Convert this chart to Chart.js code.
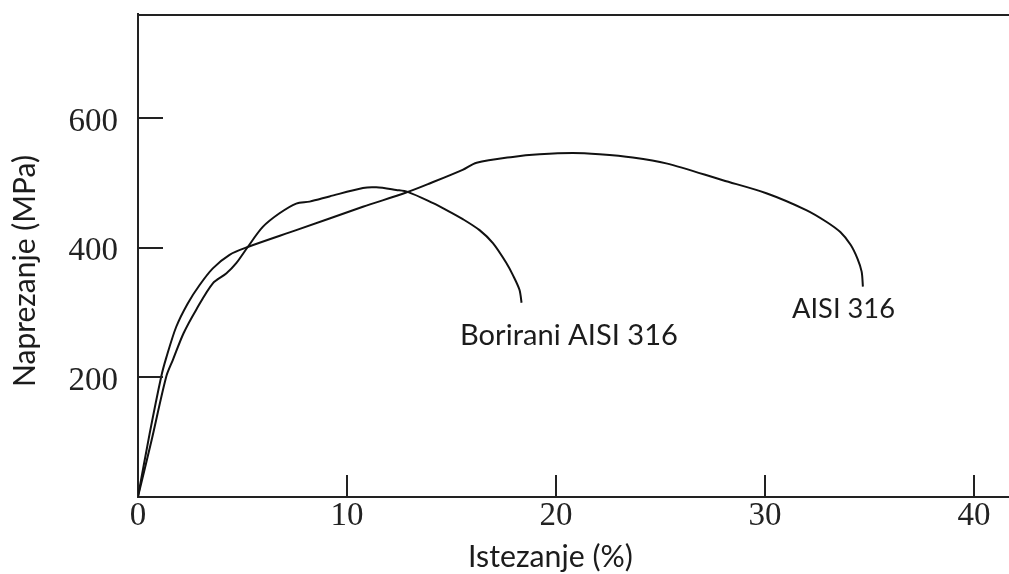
<!DOCTYPE html>
<html>
<head>
<meta charset="utf-8">
<script src="https://cdn.jsdelivr.net/npm/chart.js@4/dist/chart.umd.min.js"></script>
<style>
  html, body { margin: 0; padding: 0; background: #ffffff; }
  #c { display: block; }
</style>
</head>
<body>
<canvas id="c" width="1009" height="574"></canvas>
<script>
// ---- data ----
const aisiStrain = [0, 0.55, 1.11, 1.35, 1.83, 2.38, 2.94, 3.58, 4.38, 5.25, 7.57, 10.76, 12.83, 13.95, 15.53, 16.2, 17.93, 19.21, 20.8, 22.08, 23.67, 25.27, 27.98, 30.06, 31.97, 32.93, 33.6, 34.1, 34.42, 34.62, 34.68];
const aisiStress = [16, 112, 201, 230, 278, 314, 342, 368, 389, 401, 427, 463, 485, 499, 520, 531, 540, 544, 546, 544, 539, 530, 504, 484, 458, 440, 424, 404, 383, 363, 340];

const boridedStrain = [0, 0.65, 1.35, 1.67, 2.18, 2.78, 3.58, 4.22, 4.70, 5.25, 5.97, 6.77, 7.57, 8.21, 9.16, 10.76, 11.4, 12.35, 12.9, 14.09, 14.76, 15.54, 16.34, 16.98, 17.63, 17.93, 18.25, 18.35];
const boridedStress = [16, 103, 201, 227, 268, 304, 345, 360, 376, 401, 432, 453, 468, 471, 479, 492, 493, 489, 486, 469, 458, 444, 427, 407, 376, 358, 335, 315];

const xTicks = [0, 10, 20, 30, 40];
const yTicks = [200, 400, 600];

const seriesNames = ['AISI 316', 'Borirani AISI 316'];
const xTitle = 'Istezanje (%)';
const yTitle = 'Naprezanje (MPa)';

// ---- chart ----
const axisColor = '#222222';
const textColor = '#1c1c1c';
const sansFamily = 'Lato, "Open Sans", sans-serif';
const serifFont = { family: '"Liberation Serif", "Times New Roman", serif', size: 33 };

function toPoints(xs, ys) { return xs.map((x, i) => ({ x: x, y: ys[i] })); }

function fitFont(ctx, text, family, targetWidth) {
  ctx.font = '100px ' + family;
  const w = ctx.measureText(text).width;
  return 100 * targetWidth / w;
}

const decorPlugin = {
  id: 'decor',
  afterDraw(chart) {
    const ctx = chart.ctx;
    const xs = chart.scales.x, ys = chart.scales.y;
    const area = chart.chartArea;
    ctx.save();
    ctx.strokeStyle = axisColor;
    ctx.lineWidth = 2;
    // top frame line
    ctx.beginPath();
    ctx.moveTo(area.left, area.top + 1);
    ctx.lineTo(area.right, area.top + 1);
    ctx.stroke();
    // inward tick marks
    xTicks.forEach(v => {
      if (v === 0) return;
      const px = Math.round(xs.getPixelForValue(v));
      ctx.beginPath();
      ctx.moveTo(px, area.bottom);
      ctx.lineTo(px, area.bottom - 22);
      ctx.stroke();
    });
    yTicks.forEach(v => {
      const py = Math.round(ys.getPixelForValue(v));
      ctx.beginPath();
      ctx.moveTo(area.left, py);
      ctx.lineTo(area.left + 25, py);
      ctx.stroke();
    });

    // texts
    ctx.fillStyle = textColor;
    ctx.textBaseline = 'alphabetic';
    ctx.textAlign = 'left';
    let s;
    s = fitFont(ctx, seriesNames[1], sansFamily, 218);
    ctx.font = s + 'px ' + sansFamily;
    ctx.fillText(seriesNames[1], 460, 345);

    s = fitFont(ctx, seriesNames[0], sansFamily, 103);
    ctx.font = s + 'px ' + sansFamily;
    ctx.fillText(seriesNames[0], 792, 318);

    s = fitFont(ctx, xTitle, sansFamily, 165);
    ctx.font = s + 'px ' + sansFamily;
    ctx.fillText(xTitle, 468, 567);

    s = fitFont(ctx, yTitle, sansFamily, 232);
    ctx.font = s + 'px ' + sansFamily;
    ctx.translate(35, 271);
    ctx.rotate(-Math.PI / 2);
    ctx.textAlign = 'center';
    ctx.fillText(yTitle, 0, 0);
    ctx.restore();
  }
};

new Chart(document.getElementById('c'), {
  type: 'line',
  data: {
    datasets: [
      {
        label: seriesNames[0],
        data: toPoints(aisiStrain, aisiStress),
        borderColor: '#111111',
        borderWidth: 2,
        pointRadius: 0,
        tension: 0.3,
        fill: false
      },
      {
        label: seriesNames[1],
        data: toPoints(boridedStrain, boridedStress),
        borderColor: '#111111',
        borderWidth: 2,
        pointRadius: 0,
        tension: 0.3,
        fill: false
      }
    ]
  },
  options: {
    responsive: false,
    animation: false,
    devicePixelRatio: 1,
    layout: { padding: { top: 14, right: 0, left: 0, bottom: 0 } },
    plugins: {
      legend: { display: false },
      tooltip: { enabled: false },
      title: { display: false }
    },
    scales: {
      x: {
        type: 'linear',
        min: 0,
        max: 41.67,
        grid: { display: true, drawOnChartArea: false, drawTicks: false },
        border: { display: true, color: axisColor, width: 2 },
        ticks: {
          color: '#222',
          font: serifFont,
          padding: 0,
          maxRotation: 0,
          autoSkip: false,
          callback: v => String(v)
        },
        afterBuildTicks: scale => { scale.ticks = xTicks.map(v => ({ value: v })); },
        afterFit: scale => { scale.height = 77; scale.paddingLeft = 0; scale.paddingRight = 0; }
      },
      y: {
        type: 'linear',
        min: 15.4,
        max: 760.4,
        grid: { display: true, drawOnChartArea: false, drawTicks: false },
        border: { display: true, color: axisColor, width: 2 },
        ticks: {
          color: '#222',
          font: serifFont,
          padding: 20,
          labelOffset: 4,
          autoSkip: false,
          callback: v => String(v)
        },
        afterBuildTicks: scale => { scale.ticks = yTicks.map(v => ({ value: v })); },
        afterFit: scale => { scale.width = 138; scale.paddingTop = 0; scale.paddingBottom = 0; }
      }
    }
  },
  plugins: [decorPlugin]
});
</script>
</body>
</html>
